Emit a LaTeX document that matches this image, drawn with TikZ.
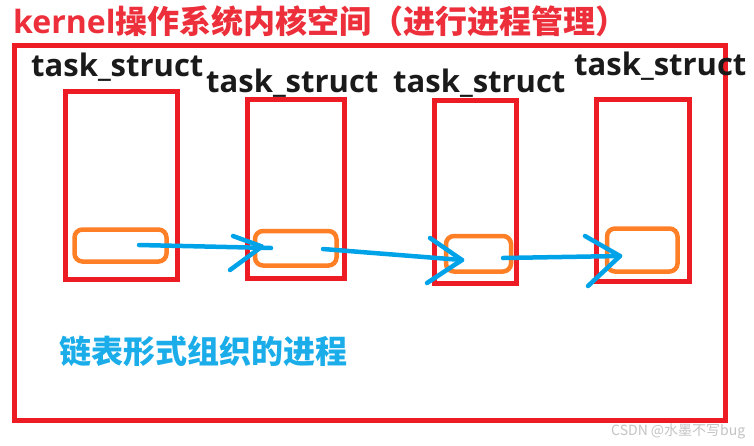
\documentclass[tikz,border=0pt]{standalone}
\usepackage{fontspec}
\newfontfamily\cjk{Noto Sans CJK SC}
\newfontfamily\lat{Open Sans}
\definecolor{pred}{HTML}{ED1C24}
\definecolor{tred}{HTML}{EC2F3A}
\definecolor{porange}{HTML}{FF7F27}
\definecolor{pblue}{HTML}{00A2E8}
\definecolor{tblue}{HTML}{1AADE9}
\definecolor{tblack}{HTML}{1A1A1A}
\definecolor{wgray}{HTML}{C4C4C4}
\tikzset{
  redbox/.style={draw=pred, line width=5pt, inner sep=0pt, outer sep=0pt, rectangle},
  orbox/.style={draw=porange, line width=4.5pt, inner sep=0pt, outer sep=0pt, rectangle, rounded corners=8pt},
  barrow/.style={draw=pblue, line width=4.5pt, line cap=round, line join=round},
  tslabel/.style={anchor=base west, inner sep=0pt, text=tblack, font=\lat\bfseries\fontsize{31}{31}\selectfont},
}
\begin{document}
\begin{tikzpicture}[x=1pt,y=-1pt]
\useasboundingbox (0,0) rectangle (754,445);
\fill[white] (0,0) rectangle (754,445);
% outer frame
\node[redbox, minimum width=711pt, minimum height=374.5pt] (outer) at (370,232.75) {};
% task_struct boxes
\node[redbox, minimum width=112pt, minimum height=188pt] (b1) at (121.5,185.5) {};
\node[redbox, minimum width=97pt, minimum height=179pt] (b2) at (296,189) {};
\node[redbox, minimum width=82pt, minimum height=183pt] (b3) at (475.5,192) {};
\node[redbox, minimum width=93pt, minimum height=182pt] (b4) at (643,190.5) {};
% orange pointer fields
\node[orbox, minimum width=92pt, minimum height=32pt] (o1) at (120.5,245.5) {};
\node[orbox, minimum width=81.5pt, minimum height=34.5pt] (o2) at (295.75,248.25) {};
\node[orbox, minimum width=65pt, minimum height=35.5pt] (o3) at (478.5,253.75) {};
\node[orbox, minimum width=70.5pt, minimum height=43pt] (o4) at (642.25,250) {};
% arrow coordinates
\coordinate (a1s) at (139,245);
\coordinate (a1e) at (271,248);
\coordinate (a1t) at (262,246.5);
\coordinate (a1u) at (233,236);
\coordinate (a1l) at (230,270);
\coordinate (a2s) at (323,249);
\coordinate (a2t) at (462,260);
\coordinate (a2u) at (430,238);
\coordinate (a2l) at (427,283);
\coordinate (a3s) at (503,258);
\coordinate (a3t) at (620,256);
\coordinate (a3u) at (585,236);
\coordinate (a3l) at (588,286);
% arrows
\draw[barrow] (a1s) -- (a1e);
\draw[barrow] (a1u) -- (a1t) -- (a1l);
\draw[barrow] (a2s) -- (a2t);
\draw[barrow] (a2u) -- (a2t) -- (a2l);
\draw[barrow] (a3s) -- (a3t);
\draw[barrow] (a3u) -- (a3t) -- (a3l);
% labels
\node[anchor=base west, inner sep=0pt, text=tred, font=\bfseries\fontsize{32}{32}\selectfont] (title) at (13,33)
  {{\lat kernel}{\cjk 操作系统内核空间（进行进程管理）}};
\node[tslabel] (l1) at (31,76) {task\_struct};
\node[tslabel] (l2) at (206,92) {task\_struct};
\node[tslabel] (l3) at (393,92) {task\_struct};
\node[tslabel] (l4) at (574,75) {task\_struct};
\node[anchor=west, inner sep=0pt, text=tblue, font=\cjk\bfseries\fontsize{32}{32}\selectfont] (cap) at (59,351) {链表形式组织的进程};
\node[anchor=west, inner sep=0pt, text=wgray, font=\cjk\fontsize{14}{14}\selectfont] (wm) at (611,431) {CSDN @水墨不写bug};
\end{tikzpicture}
\end{document}
